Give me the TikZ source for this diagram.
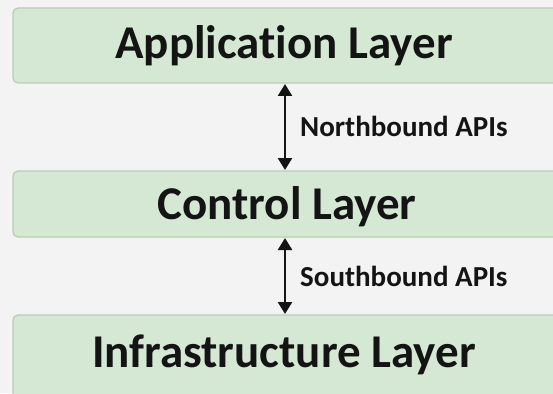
\documentclass[tikz,border=0pt]{standalone}
\usepackage{fontspec}
\setmainfont[Ligatures={NoCommon}]{Carlito}
\usetikzlibrary{arrows.meta}
\definecolor{bgcol}{HTML}{F3F3F3}
\definecolor{layerfill}{HTML}{D5E8D4}
\definecolor{layerdraw}{HTML}{B8CEB3}
\definecolor{inkcol}{HTML}{141414}
\tikzset{
  layer/.style={draw=layerdraw, line width=1.2pt, fill=layerfill, rounded corners=5pt},
  layertext/.style={font=\fontsize{47}{47}\selectfont\bfseries, text=inkcol, anchor=base, inner sep=0pt},
  apitext/.style={font=\fontsize{29}{29}\selectfont\bfseries, text=inkcol, anchor=west, inner sep=0pt},
  apiarrow/.style={line width=2.4pt, draw=inkcol, {Triangle[length=12pt,width=14pt]}-{Triangle[length=12pt,width=14pt]}}
}
\begin{document}
\begin{tikzpicture}[x=1pt, y=-1pt]
  \useasboundingbox (0,0) rectangle (553,393);
  \clip (0,0) rectangle (553,393);
  \fill[bgcol] (0,0) rectangle (553,393);
  % three stacked layers
  \draw[layer] (13,8) rectangle (570,83);
  \draw[layer] (13,171) rectangle (570,237);
  \draw[layer] (13,315) rectangle (570,410);
  \node[layertext] (app) at (284,59) {Application Layer};
  \node[layertext] (ctl) at (287,219) {Control Layer};
  \node[layertext] (infra) at (284,367) {Infrastructure Layer};
  % interfaces between layers
  \coordinate (a1) at (285,84);
  \coordinate (a2) at (285,170);
  \coordinate (b1) at (285,238);
  \coordinate (b2) at (285,314);
  \draw[apiarrow] (a1) -- (a2);
  \draw[apiarrow] (b1) -- (b2);
  \node[apitext] (nb) at (300,126) {Northbound APIs};
  \node[apitext] (sb) at (300,276) {Southbound APIs};
\end{tikzpicture}
\end{document}
